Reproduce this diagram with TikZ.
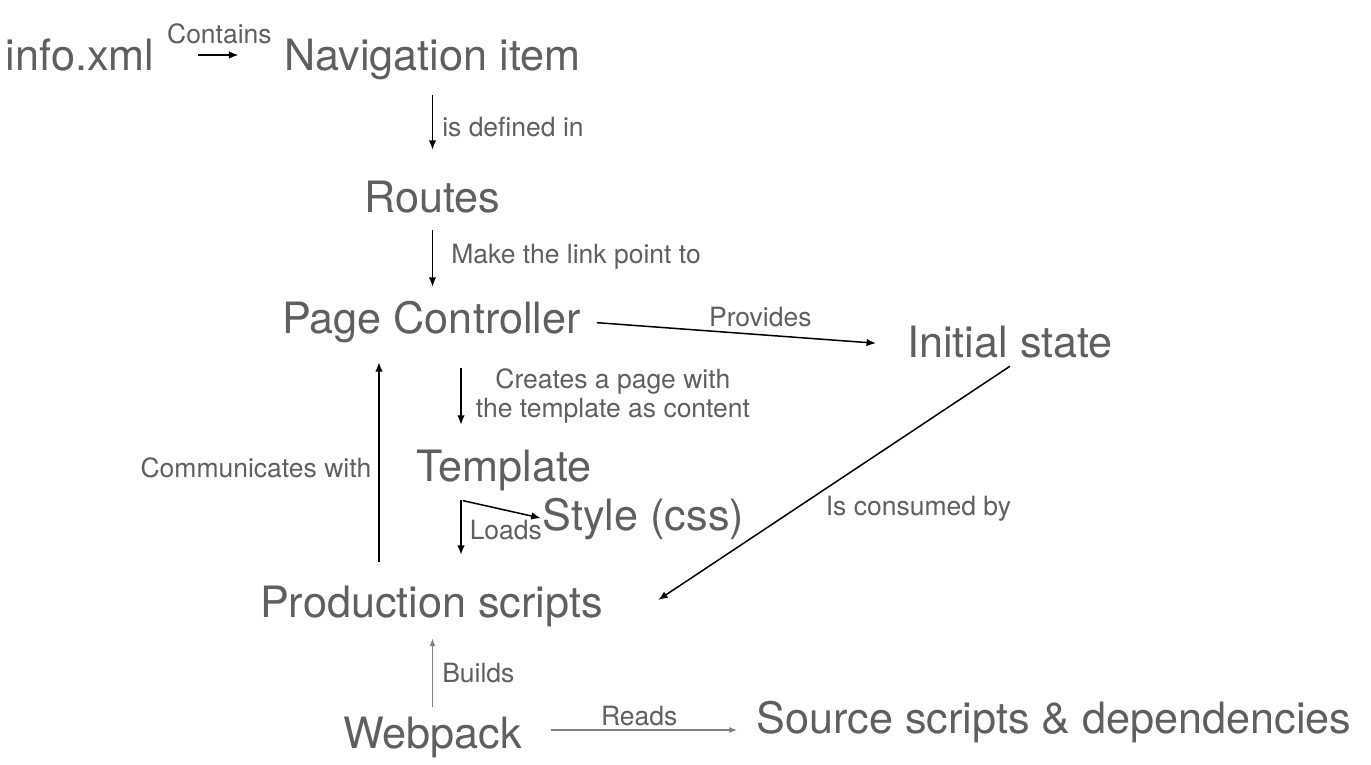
\documentclass[tikz,border=0pt]{standalone}
\usepackage{fontspec}
\setmainfont{TeX Gyre Heros}
\usetikzlibrary{arrows.meta, calc}
\definecolor{InkGray}{HTML}{5F5F5F}
\definecolor{ArrowGray}{HTML}{808080}
\tikzset{
  bigterm/.style={anchor=base, inner sep=0pt, text=InkGray, font=\fontsize{43.2}{50}\selectfont, text height=32pt, text depth=9pt},
  edgelabel/.style={inner sep=2pt, text=InkGray, font=\fontsize{26.5}{29}\selectfont, text height=19pt, text depth=5.5pt},
  arrow/.style={-{Latex[length=9.5pt, width=7.5pt]}, line width=1.5pt, draw=black},
  grayarrow/.style={-{Latex[length=8pt, width=6pt]}, line width=1.5pt, draw=ArrowGray}
}

\begin{document}
\begin{tikzpicture}[x=1pt, y=-1pt]
\useasboundingbox (0,0) rectangle (1371,764);

\node[bigterm] (info) at (80,70) {info.xml};
\node[bigterm] (nav) at (432.5,70) {Navigation item};
\node[bigterm] (routes) at (432.5,212) {Routes};
\node[bigterm] (pc) at (431.5,333) {Page Controller};
\node[bigterm] (init) at (1010,357) {Initial state};
\node[bigterm] (tpl) at (504,481) {Template};
\node[bigterm] (css) at (643.5,530) {Style (css)};
\node[bigterm] (prod) at (431.5,617) {Production scripts};
\node[bigterm] (webpack) at (432.5,748) {Webpack};
\node[bigterm] (src) at (1054,733) {Source scripts \& dependencies};

\draw[arrow, shorten <=44pt, shorten >=46pt] ($(info.east)+(0,-3.5)$) -- node[edgelabel, above=3pt] (containslbl) {Contains} ($(info.east -| nav.west)+(0,-3.5)$);
\draw[arrow, shorten <=16pt, shorten >=30pt] (nav.south) -- node[edgelabel, right=7pt, pos=0.5] (definedlbl) {is defined in} (routes.north);
\draw[arrow, shorten <=9pt, shorten >=14pt] (routes.south) -- node[edgelabel, right=16pt, pos=0.45] (linklbl) {Make the link point to} (routes.south |- pc.north);
\draw[arrow, shorten <=16pt, shorten >=31pt] (pc.east) -- node[edgelabel, above=0pt, pos=0.55] (provideslbl) {Provides} (init.west);
\draw[arrow, shorten <=26pt, shorten >=24pt] ($(pc.south)+(29.5,0)$) -- node[edgelabel, right=12pt, align=center, text height=, text depth=] (createslbl) {Creates a page with\\the template as content} ($(pc.south |- tpl.north)+(29.5,0)$);
\draw[arrow, shorten <=23pt, shorten >=20pt] ($(prod.north)+(-52.5,0)$) -- node[edgelabel, left=5pt, pos=0.47] (commlbl) {Communicates with} ($(pc.south -| prod.north)+(-52.5,0)$);

\coordinate (loadsfork) at ($(tpl.south)+(-43,10)$);
\draw[arrow, shorten >=30pt] (loadsfork) -- node[edgelabel, right=6pt, pos=0.39] (loadslbl) {Loads} (loadsfork |- prod.north);
\draw[arrow, shorten <=2pt, shorten >=2pt] (loadsfork) -- (css.west);

\draw[arrow] (init.south) -- node[edgelabel, pos=0.5, anchor=north west, xshift=-11pt, yshift=-11pt] (consumedlbl) {Is consumed by} ($(prod.east)+(55,-5.5)$);

\draw[grayarrow, shorten <=9pt, shorten >=12pt] (webpack.north) -- node[edgelabel, right=7pt, pos=0.45] (buildslbl) {Builds} (webpack.north |- prod.south);
\draw[grayarrow, shorten <=29pt, shorten >=19pt] ($(webpack.east)+(0,-6.5)$) -- node[edgelabel, above=-4pt] (readslbl) {Reads} ($(webpack.east -| src.west)+(0,-6.5)$);
\end{tikzpicture}
\end{document}
